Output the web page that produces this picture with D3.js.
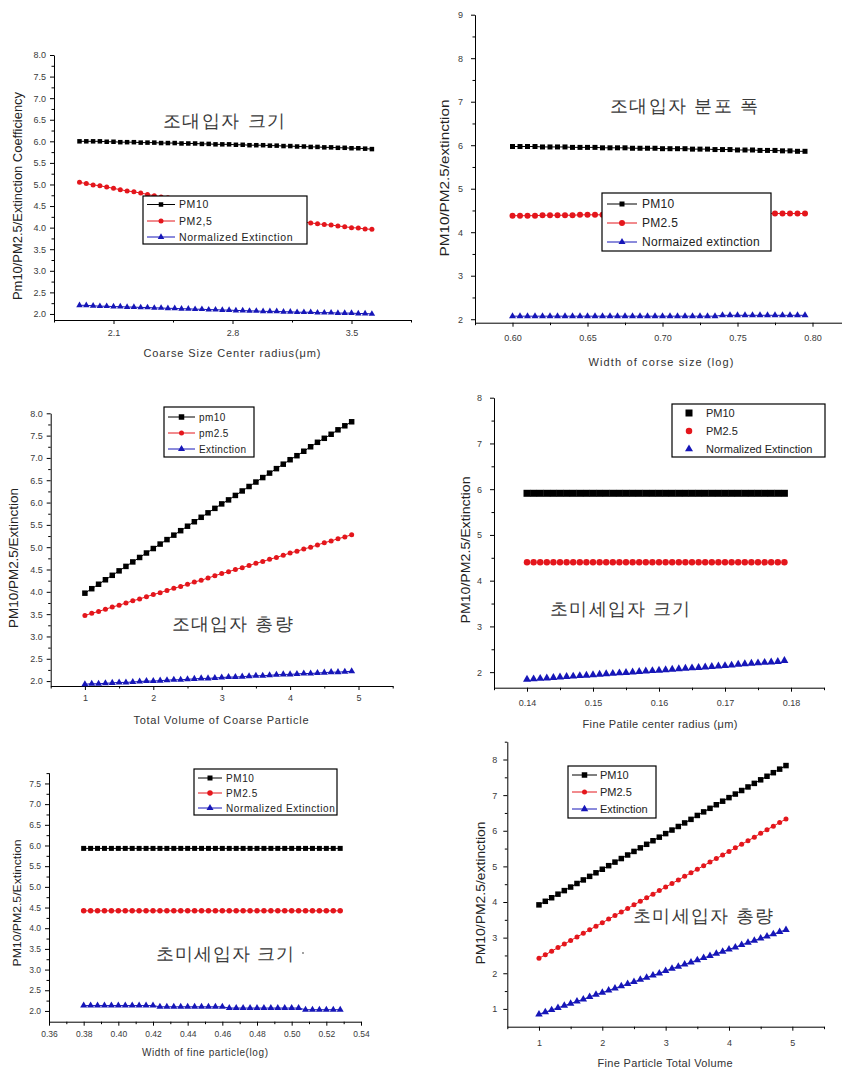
<!DOCTYPE html>
<html>
<head>
<meta charset="utf-8">
<script src="https://cdn.jsdelivr.net/npm/d3@7"></script>
<style>
  body { margin: 0; background: #fff; }
  svg { display: block; }
  text { font-family: "Liberation Sans", Arial, sans-serif; }
</style>
</head>
<body>
<svg id="fig" width="842" height="1070"></svg>
<script>
// ---------- Panel 1: coarse size center radius ----------
const xCoarseRadius = [1.90,1.94,1.98,2.02,2.06,2.10,2.14,2.18,2.22,2.26,2.30,2.34,2.38,2.42,2.46,2.50,2.54,2.58,2.62,2.66,2.70,2.74,2.78,2.82,2.86,2.90,2.94,2.98,3.02,3.06,3.10,3.14,3.18,3.22,3.26,3.30,3.34,3.38,3.42,3.46,3.50,3.54,3.58,3.62];
const pm10CoarseRadius = [6.00,6.00,6.00,6.00,5.99,5.99,5.98,5.98,5.98,5.97,5.97,
  5.97,5.96,5.96,5.96,5.95,5.95,5.95,5.94,5.94,5.93,5.93,
  5.93,5.92,5.92,5.91,5.91,5.91,5.90,5.90,5.89,5.89,5.88,
  5.88,5.87,5.87,5.86,5.86,5.85,5.85,5.84,5.84,5.83,5.82];
const pm25CoarseRadius = [5.05,5.02,4.99,4.97,4.94,4.91,4.88,4.85,4.83,4.80,4.77,
  4.74,4.71,4.69,4.66,4.63,4.60,4.57,4.55,4.52,4.49,4.46,
  4.43,4.41,4.38,4.35,4.32,4.29,4.27,4.24,4.21,4.18,4.15,
  4.13,4.11,4.09,4.07,4.06,4.04,4.02,4.00,3.99,3.97,3.96];
const extCoarseRadius = [2.20,2.20,2.19,2.18,2.18,2.17,2.17,2.16,2.16,2.15,2.15,
  2.14,2.14,2.13,2.13,2.12,2.12,2.11,2.11,2.10,2.10,2.09,
  2.09,2.08,2.08,2.07,2.07,2.06,2.06,2.06,2.05,2.05,2.04,
  2.04,2.04,2.03,2.03,2.03,2.02,2.02,2.02,2.01,2.01,2.00];
const xTicksCoarseRadius = [2.1, 2.8, 3.5];
const xMinorCoarseRadius = [1.75, 2.45, 3.15, 3.85];
const yTicksCoarseRadius = [2.0,2.5,3.0,3.5,4.0,4.5,5.0,5.5,6.0,6.5,7.0,7.5,8.0];
const yMinorCoarseRadius = [2.25,2.75,3.25,3.75,4.25,4.75,5.25,5.75,6.25,6.75,7.25,7.75];

// ---------- Panel 2: width of coarse size distribution ----------
const xCoarseWidth = [0.600,0.605,0.610,0.615,0.620,0.625,0.630,0.635,0.640,0.645,0.650,0.655,0.660,0.665,0.670,0.675,0.680,0.685,0.690,0.695,0.700,0.705,0.710,0.715,0.720,0.725,0.730,0.735,0.740,0.745,0.750,0.755,0.760,0.765,0.770,0.775,0.780,0.785,0.790,0.795];
const pm10CoarseWidth = [5.97,5.97,5.97,5.97,5.96,5.96,5.96,5.96,5.95,5.95,
  5.95,5.95,5.94,5.94,5.94,5.94,5.93,5.93,5.93,5.93,
  5.92,5.92,5.92,5.92,5.91,5.91,5.91,5.90,5.90,5.90,
  5.89,5.89,5.89,5.88,5.88,5.88,5.87,5.87,5.86,5.86];
const pm25CoarseWidth = [4.38,4.38,4.38,4.38,4.39,4.39,4.39,4.39,4.39,4.40,
  4.40,4.40,4.40,4.40,4.40,4.41,4.41,4.41,4.41,4.41,
  4.41,4.41,4.42,4.42,4.42,4.42,4.42,4.42,4.42,4.42,
  4.43,4.43,4.43,4.43,4.43,4.43,4.43,4.43,4.43,4.43];
const extCoarseWidth = [2.07,2.07,2.07,2.07,2.07,2.07,2.07,2.07,2.07,2.07,
  2.07,2.07,2.07,2.07,2.07,2.07,2.07,2.07,2.07,2.07,
  2.07,2.07,2.07,2.07,2.07,2.07,2.07,2.07,2.09,2.09,
  2.09,2.09,2.09,2.09,2.09,2.09,2.09,2.09,2.09,2.09];
const xTicksCoarseWidth = [0.60,0.65,0.70,0.75,0.80];
const xMinorCoarseWidth = [0.575,0.625,0.675,0.725,0.775,0.825];
const yTicksCoarseWidth = [2,3,4,5,6,7,8,9];
const yMinorCoarseWidth = [2.5,3.5,4.5,5.5,6.5,7.5,8.5];

// ---------- Panel 3: total volume of coarse particles ----------
const xCoarseVolume = [1.0,1.1,1.2,1.3,1.4,1.5,1.6,1.7,1.8,1.9,2.0,2.1,2.2,2.3,2.4,2.5,2.6,2.7,2.8,2.9,3.0,3.1,3.2,3.3,3.4,3.5,3.6,3.7,3.8,3.9,4.0,4.1,4.2,4.3,4.4,4.5,4.6,4.7,4.8,4.9];
const pm10CoarseVolume = [3.97,4.07,4.17,4.27,4.37,4.47,4.57,4.67,4.77,4.87,
  4.97,5.07,5.17,5.27,5.37,5.47,5.57,5.67,5.77,5.87,
  5.97,6.06,6.16,6.26,6.36,6.46,6.56,6.66,6.76,6.86,
  6.96,7.05,7.15,7.25,7.35,7.44,7.53,7.63,7.72,7.81];
const pm25CoarseVolume = [3.47,3.52,3.56,3.61,3.66,3.70,3.75,3.80,3.84,3.89,
  3.94,3.98,4.03,4.08,4.12,4.17,4.22,4.26,4.31,4.36,
  4.41,4.45,4.50,4.54,4.59,4.64,4.68,4.73,4.77,4.82,
  4.87,4.91,4.96,5.00,5.05,5.10,5.14,5.19,5.23,5.28];
const extCoarseVolume = [1.93,1.94,1.94,1.95,1.96,1.97,1.97,1.98,1.99,2.00,
  2.00,2.01,2.02,2.03,2.03,2.04,2.05,2.06,2.06,2.07,
  2.08,2.09,2.09,2.10,2.11,2.12,2.12,2.13,2.14,2.15,
  2.15,2.16,2.17,2.17,2.18,2.19,2.20,2.20,2.21,2.22];
const xTicksVolume = [1,2,3,4,5];
const xMinorVolume = [0.5,1.5,2.5,3.5,4.5,5.5];
const yTicksCoarseVolume = [2.0,2.5,3.0,3.5,4.0,4.5,5.0,5.5,6.0,6.5,7.0,7.5,8.0];
const yMinorCoarseVolume = [2.25,2.75,3.25,3.75,4.25,4.75,5.25,5.75,6.25,6.75,7.25,7.75];

// ---------- Panel 4: fine particle center radius ----------
const xFineRadius = [0.140,0.141,0.142,0.143,0.144,0.145,0.146,0.147,0.148,0.149,0.150,0.151,0.152,0.153,0.154,0.155,0.156,0.157,0.158,0.159,0.160,0.161,0.162,0.163,0.164,0.165,0.166,0.167,0.168,0.169,0.170,0.171,0.172,0.173,0.174,0.175,0.176,0.177,0.178,0.179];
const pm10FineRadius = [5.91,5.91,5.91,5.91,5.91,5.91,5.91,5.91,5.91,5.91,
  5.91,5.91,5.91,5.91,5.91,5.91,5.91,5.91,5.91,5.91,
  5.91,5.91,5.91,5.91,5.91,5.91,5.91,5.91,5.91,5.91,
  5.91,5.91,5.91,5.91,5.91,5.91,5.91,5.91,5.91,5.91];
const pm25FineRadius = [4.40,4.40,4.40,4.40,4.40,4.40,4.40,4.40,4.40,4.40,
  4.40,4.40,4.40,4.40,4.40,4.40,4.40,4.40,4.40,4.40,
  4.40,4.40,4.40,4.40,4.40,4.40,4.40,4.40,4.40,4.40,
  4.40,4.40,4.40,4.40,4.40,4.40,4.40,4.40,4.40,4.40];
const extFineRadius = [1.84,1.85,1.86,1.87,1.88,1.89,1.90,1.91,1.92,1.93,
  1.94,1.95,1.96,1.97,1.98,1.99,2.00,2.01,2.02,2.03,
  2.04,2.05,2.06,2.07,2.08,2.09,2.10,2.11,2.12,2.13,
  2.14,2.15,2.17,2.18,2.19,2.20,2.21,2.22,2.23,2.25];
const xTicksFineRadius = [0.14,0.15,0.16,0.17,0.18];
const xMinorFineRadius = [0.135,0.145,0.155,0.165,0.175,0.185];
const yTicksFineRadius = [2,3,4,5,6,7,8];
const yMinorFineRadius = [2.5,3.5,4.5,5.5,6.5,7.5];

// ---------- Panel 5: width of fine particle distribution ----------
const xFineWidth = [0.380,0.384,0.388,0.392,0.396,0.400,0.404,0.408,0.412,0.416,0.420,0.424,0.428,0.432,0.436,0.440,0.444,0.448,0.452,0.456,0.460,0.464,0.468,0.472,0.476,0.480,0.484,0.488,0.492,0.496,0.500,0.504,0.508,0.512,0.516,0.520,0.524,0.528];
const pm10FineWidth = [5.93,5.93,5.93,5.93,5.93,5.93,5.93,5.93,5.93,5.93,
  5.93,5.93,5.93,5.93,5.93,5.93,5.93,5.93,5.93,5.93,
  5.93,5.93,5.93,5.93,5.93,5.93,5.93,5.93,5.93,5.93,
  5.93,5.93,5.93,5.93,5.93,5.93,5.93,5.93];
const pm25FineWidth = [4.42,4.42,4.42,4.42,4.42,4.42,4.42,4.42,4.42,4.42,
  4.42,4.42,4.42,4.42,4.42,4.42,4.42,4.42,4.42,4.42,
  4.42,4.42,4.42,4.42,4.42,4.42,4.42,4.42,4.42,4.42,
  4.42,4.42,4.42,4.42,4.42,4.42,4.42,4.42];
const extFineWidth = [2.13,2.13,2.13,2.13,2.13,2.13,2.13,2.13,2.13,2.13,
  2.13,2.10,2.10,2.10,2.10,2.10,2.10,2.10,2.10,2.10,
  2.10,2.07,2.07,2.07,2.07,2.07,2.07,2.07,2.07,2.07,
  2.07,2.07,2.03,2.03,2.03,2.03,2.03,2.03];
const xTicksFineWidth = [0.36,0.38,0.40,0.42,0.44,0.46,0.48,0.50,0.52,0.54];
const xMinorFineWidth = [0.37,0.39,0.41,0.43,0.45,0.47,0.49,0.51,0.53];
const yTicksFineWidth = [2.0,2.5,3.0,3.5,4.0,4.5,5.0,5.5,6.0,6.5,7.0,7.5];
const yMinorFineWidth = [2.25,2.75,3.25,3.75,4.25,4.75,5.25,5.75,6.25,6.75,7.25,7.75];

// ---------- Panel 6: total volume of fine particles ----------
const xFineVolume = [1.0,1.1,1.2,1.3,1.4,1.5,1.6,1.7,1.8,1.9,2.0,2.1,2.2,2.3,2.4,2.5,2.6,2.7,2.8,2.9,3.0,3.1,3.2,3.3,3.4,3.5,3.6,3.7,3.8,3.9,4.0,4.1,4.2,4.3,4.4,4.5,4.6,4.7,4.8,4.9];
const pm10FineVolume = [3.92,4.02,4.12,4.22,4.32,4.42,4.52,4.62,4.72,4.82,
  4.92,5.02,5.12,5.22,5.32,5.42,5.52,5.62,5.72,5.82,
  5.92,6.02,6.12,6.22,6.32,6.43,6.53,6.63,6.73,6.83,
  6.93,7.03,7.13,7.23,7.33,7.43,7.53,7.63,7.73,7.83];
const pm25FineVolume = [2.42,2.52,2.62,2.72,2.82,2.92,3.02,3.12,3.22,3.32,
  3.42,3.52,3.62,3.72,3.82,3.92,4.02,4.12,4.22,4.32,
  4.42,4.52,4.62,4.72,4.82,4.92,5.02,5.12,5.22,5.32,
  5.42,5.52,5.62,5.72,5.82,5.93,6.03,6.13,6.23,6.33];
const extFineVolume = [0.85,0.91,0.97,1.03,1.09,1.15,1.21,1.27,1.34,1.40,
  1.46,1.52,1.58,1.64,1.70,1.76,1.82,1.88,1.94,2.00,
  2.07,2.13,2.19,2.25,2.31,2.37,2.43,2.49,2.55,2.61,
  2.67,2.73,2.80,2.86,2.92,2.98,3.04,3.10,3.16,3.22];
const yTicksFineVolume = [1,2,3,4,5,6,7,8];
const yMinorFineVolume = [1.5,2.5,3.5,4.5,5.5,6.5,7.5,8.5];

// ---------- drawing ----------
const svg = d3.select("#fig");
svg.append("rect").attr("width", 842).attr("height", 1070).attr("fill", "#fff");

const COLOR = { pm10: "#000000", pm25: "#e4161c", ext: "#1616b8" };
const SHAPE = { pm10: d3.symbolSquare, pm25: d3.symbolCircle, ext: d3.symbolTriangle };

// convert a visual marker width (px) to the symbol's area
function symArea(kind, w) {
  if (kind === "pm10") return w * w;
  if (kind === "pm25") return Math.PI * (w / 2) * (w / 2);
  return w * w * Math.sqrt(3) / 4;
}

function drawPanel(p) {
  const g = svg.append("g");
  const x = d3.scaleLinear().domain(p.xDomain).range(p.xRange);
  const y = d3.scaleLinear().domain(p.yDomain).range(p.yRange);
  const y0 = p.yRange[0], x0 = p.xRange[0];

  // axes (major + minor ticks)
  const ax = g.append("g").attr("transform", `translate(0,${y0})`)
    .call(d3.axisBottom(x).tickValues(p.xTicks).tickFormat(d3.format(p.xFmt))
      .tickSize(4).tickSizeOuter(0).tickPadding(p.xPad));
  g.append("g").attr("transform", `translate(0,${y0})`)
    .call(d3.axisBottom(x).tickValues(p.xMinor).tickFormat("").tickSize(2.5).tickSizeOuter(0))
    .select(".domain").remove();
  const ay = g.append("g").attr("transform", `translate(${x0},0)`)
    .call(d3.axisLeft(y).tickValues(p.yTicks).tickFormat(d3.format(p.yFmt))
      .tickSize(4).tickSizeOuter(0).tickPadding(p.yPad));
  g.append("g").attr("transform", `translate(${x0},0)`)
    .call(d3.axisLeft(y).tickValues(p.yMinor).tickFormat("").tickSize(2.5).tickSizeOuter(0))
    .select(".domain").remove();
  [ax, ay].forEach(a => {
    a.selectAll("text").attr("font-size", p.tickFont).attr("fill", "#3a3a3a")
      .attr("font-family", "Liberation Sans, Arial, sans-serif");
  });
  g.selectAll(".domain, .tick line").attr("stroke", "#000").attr("stroke-width", 1);

  // series
  p.series.forEach(s => {
    const pts = p.xs.map((xv, i) => [xv, s.values[i]]);
    if (p.lines) {
      g.append("path").datum(pts)
        .attr("fill", "none").attr("stroke", COLOR[s.kind]).attr("stroke-width", 1)
        .attr("d", d3.line().x(d => x(d[0])).y(d => y(d[1])));
    }
    g.selectAll(null).data(pts).enter().append("path")
      .attr("transform", d => `translate(${x(d[0])},${y(d[1])})`)
      .attr("fill", COLOR[s.kind])
      .attr("d", d3.symbol(SHAPE[s.kind], symArea(s.kind, p.marker[s.kind])));
  });

  // legend
  const L = p.legend;
  g.append("rect").attr("x", L.x).attr("y", L.y).attr("width", L.w).attr("height", L.h)
    .attr("fill", "#fff").attr("stroke", "#000").attr("stroke-width", 1.2);
  p.series.forEach((s, i) => {
    const ry = L.rows[i];
    if (p.lines) {
      g.append("line").attr("x1", L.lx0).attr("x2", L.lx1).attr("y1", ry).attr("y2", ry)
        .attr("stroke", COLOR[s.kind]).attr("stroke-width", 1);
    }
    g.append("path").attr("transform", `translate(${(L.lx0 + L.lx1) / 2},${ry})`)
      .attr("fill", COLOR[s.kind])
      .attr("d", d3.symbol(SHAPE[s.kind], symArea(s.kind, p.marker[s.kind])));
    g.append("text").attr("x", L.tx).attr("y", ry).attr("dy", "0.36em")
      .attr("font-size", L.font).attr("fill", "#222").attr("letter-spacing", L.ls || 0)
      .text(s.name);
  });

  // axis titles
  const yl = p.yLabel;
  g.append("text").attr("transform", `translate(${yl.x},${yl.y}) rotate(-90)`)
    .attr("text-anchor", "middle").attr("dy", "0.36em")
    .attr("font-size", yl.size).attr("fill", "#222")
    .attr("textLength", yl.len).attr("lengthAdjust", "spacingAndGlyphs")
    .text(yl.text);
  const xl = p.xLabel;
  g.append("text").attr("x", xl.x).attr("y", xl.y)
    .attr("text-anchor", "middle").attr("dy", "0.36em")
    .attr("font-size", xl.size).attr("fill", "#333")
    .attr("textLength", xl.len).attr("lengthAdjust", "spacing")
    .text(xl.text);

  // Korean annotation inside the plot
  const k = p.note;
  g.append("text").attr("x", k.x).attr("y", k.y)
    .attr("text-anchor", "middle").attr("dy", "0.36em")
    .attr("font-family", "Noto Sans CJK KR, sans-serif").attr("font-size", 18)
    .attr("fill", "#3a3a3a").attr("textLength", k.len).attr("lengthAdjust", "spacing")
    .text(k.text);
  if (k.dot) {
    g.append("circle").attr("cx", k.dot[0]).attr("cy", k.dot[1]).attr("r", 0.9).attr("fill", "#777");
  }
}

const panels = [
  {
    xs: xCoarseRadius, lines: true,
    series: [
      { name: "PM10", kind: "pm10", values: pm10CoarseRadius },
      { name: "PM2,5", kind: "pm25", values: pm25CoarseRadius },
      { name: "Normalized Extinction", kind: "ext", values: extCoarseRadius }
    ],
    xDomain: [1.75, 3.85], xRange: [54, 411], yDomain: [1.86, 8.0], yRange: [320, 55],
    xTicks: xTicksCoarseRadius, xMinor: xMinorCoarseRadius, xFmt: ".1f", xPad: 6,
    yTicks: yTicksCoarseRadius, yMinor: yMinorCoarseRadius, yFmt: ".1f", yPad: 4,
    tickFont: 9, marker: { pm10: 4.5, pm25: 5, ext: 6.5 },
    legend: { x: 143, y: 196, w: 164, h: 48, rows: [204.5, 221, 237], lx0: 147, lx1: 175, tx: 179, font: 10.5, ls: 0.6 },
    yLabel: { text: "Pm10/PM2.5/Extinction Coefficiency", x: 18, y: 196, size: 12, len: 208 },
    xLabel: { text: "Coarse Size Center radius(\u03bcm)", x: 232, y: 353, size: 11, len: 177 },
    note: { text: "조대입자 크기", x: 224, y: 121, len: 122 }
  },
  {
    xs: xCoarseWidth, lines: true,
    series: [
      { name: "PM10", kind: "pm10", values: pm10CoarseWidth },
      { name: "PM2.5", kind: "pm25", values: pm25CoarseWidth },
      { name: "Normaized extinction", kind: "ext", values: extCoarseWidth }
    ],
    xDomain: [0.575, 0.825], xRange: [475, 850], yDomain: [1.92, 9], yRange: [322.7, 14.7],
    xTicks: xTicksCoarseWidth, xMinor: xMinorCoarseWidth, xFmt: ".2f", xPad: 8,
    yTicks: yTicksCoarseWidth, yMinor: yMinorCoarseWidth, yFmt: "d", yPad: 8,
    tickFont: 9, marker: { pm10: 5, pm25: 6, ext: 7 },
    legend: { x: 602, y: 193, w: 169, h: 58, rows: [204, 223, 242], lx0: 607, lx1: 637, tx: 642, font: 12, ls: 0.3 },
    yLabel: { text: "PM10/PM2.5/extinction", x: 444, y: 178, size: 13, len: 157 },
    xLabel: { text: "Width of corse size (log)", x: 661, y: 362, size: 11, len: 145 },
    note: { text: "조대입자 분포 폭", x: 684, y: 106, len: 148 }
  },
  {
    xs: xCoarseVolume, lines: true,
    series: [
      { name: "pm10", kind: "pm10", values: pm10CoarseVolume },
      { name: "pm2.5", kind: "pm25", values: pm25CoarseVolume },
      { name: "Extinction", kind: "ext", values: extCoarseVolume }
    ],
    xDomain: [0.5, 5.5], xRange: [50.7, 392.7], yDomain: [1.89, 8.0], yRange: [686, 413.3],
    xTicks: xTicksVolume, xMinor: xMinorVolume, xFmt: "d", xPad: 5,
    yTicks: yTicksCoarseVolume, yMinor: yMinorCoarseVolume, yFmt: ".1f", yPad: 4,
    tickFont: 9, marker: { pm10: 5.5, pm25: 5, ext: 7 },
    legend: { x: 164, y: 407, w: 90, h: 50, rows: [417, 433, 449], lx0: 168, lx1: 195, tx: 199, font: 10, ls: 0.4 },
    yLabel: { text: "PM10/PM2.5/Extinction", x: 14, y: 558, size: 12, len: 140 },
    xLabel: { text: "Total Volume of  Coarse Particle", x: 221, y: 720, size: 11, len: 175 },
    note: { text: "조대입자 총량", x: 232, y: 624, len: 121 }
  },
  {
    xs: xFineRadius, lines: false,
    series: [
      { name: "PM10", kind: "pm10", values: pm10FineRadius },
      { name: "PM2.5", kind: "pm25", values: pm25FineRadius },
      { name: "Normalized Extinction", kind: "ext", values: extFineRadius }
    ],
    xDomain: [0.135, 0.185], xRange: [494, 824], yDomain: [1.66, 8], yRange: [687.7, 397.7],
    xTicks: xTicksFineRadius, xMinor: xMinorFineRadius, xFmt: ".2f", xPad: 8,
    yTicks: yTicksFineRadius, yMinor: yMinorFineRadius, yFmt: "d", yPad: 8,
    tickFont: 9, marker: { pm10: 7, pm25: 6.5, ext: 8 },
    legend: { x: 672, y: 404, w: 153, h: 53, rows: [413, 431, 449], lx0: 681, lx1: 697, tx: 706, font: 11 },
    yLabel: { text: "PM10/PM2.5/Extinction", x: 465, y: 550, size: 13, len: 147 },
    xLabel: { text: "Fine Patile center radius (\u03bcm)", x: 660, y: 724, size: 11, len: 155 },
    note: { text: "초미세입자 크기", x: 620, y: 609, len: 140 }
  },
  {
    xs: xFineWidth, lines: true,
    series: [
      { name: "PM10", kind: "pm10", values: pm10FineWidth },
      { name: "PM2.5", kind: "pm25", values: pm25FineWidth },
      { name: "Normalized Extinction", kind: "ext", values: extFineWidth }
    ],
    xDomain: [0.36, 0.54], xRange: [49, 361], yDomain: [1.74, 7.76], yRange: [1021.7, 772.7],
    xTicks: xTicksFineWidth, xMinor: xMinorFineWidth, xFmt: ".2f", xPad: 5,
    yTicks: yTicksFineWidth, yMinor: yMinorFineWidth, yFmt: ".1f", yPad: 4,
    tickFont: 8.5, marker: { pm10: 5, pm25: 5.5, ext: 7 },
    legend: { x: 194, y: 769, w: 143, h: 46, rows: [778, 793, 808], lx0: 198, lx1: 222, tx: 226, font: 10, ls: 0.6 },
    yLabel: { text: "PM10/PM2.5/Extinction", x: 17, y: 903, size: 11, len: 127 },
    xLabel: { text: "Width of fine particle(log)", x: 205, y: 1052, size: 10, len: 126 },
    note: { text: "초미세입자 크기", x: 225, y: 954, len: 138, dot: [303, 953] }
  },
  {
    xs: xFineVolume, lines: true,
    series: [
      { name: "PM10", kind: "pm10", values: pm10FineVolume },
      { name: "PM2.5", kind: "pm25", values: pm25FineVolume },
      { name: "Extinction", kind: "ext", values: extFineVolume }
    ],
    xDomain: [0.5, 5.5], xRange: [507.3, 824], yDomain: [0.5, 8.5], yRange: [1026.7, 741.7],
    xTicks: xTicksVolume, xMinor: xMinorVolume, xFmt: "d", xPad: 9,
    yTicks: yTicksFineVolume, yMinor: yMinorFineVolume, yFmt: "d", yPad: 6,
    tickFont: 9, marker: { pm10: 5.5, pm25: 5, ext: 7.5 },
    legend: { x: 568, y: 766, w: 88, h: 52, rows: [775, 792, 809], lx0: 572, lx1: 597, tx: 600, font: 11 },
    yLabel: { text: "PM10/PM2.5/extinction", x: 480, y: 893, size: 13, len: 143 },
    xLabel: { text: "Fine Particle Total Volume", x: 665, y: 1063, size: 11, len: 135 },
    note: { text: "초미세입자 총량", x: 703, y: 916, len: 140 }
  }
];

panels.forEach(drawPanel);
</script>
</body>
</html>
